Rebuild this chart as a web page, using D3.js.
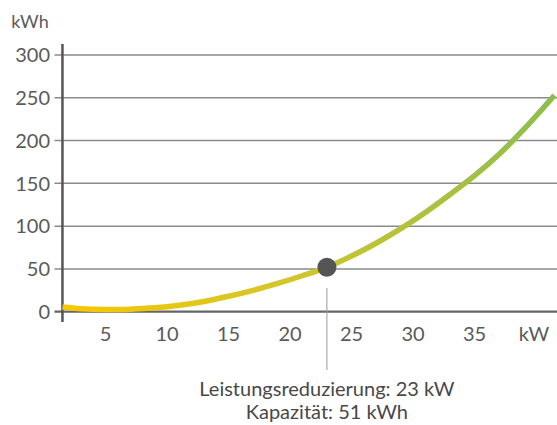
<!DOCTYPE html>
<html>
<head>
<meta charset="utf-8">
<script src="https://cdn.jsdelivr.net/npm/d3@7"></script>
<style>
  body { margin: 0; background: #fff; }
  text { font-family: Lato, "Open Sans", sans-serif; fill: #5a5a5a; }
</style>
</head>
<body>
<script>
// values
var leistung = [1.5, 3, 5, 7, 9, 11, 13, 15, 17, 19, 21, 23, 25, 27, 29, 31, 33, 35, 37, 39, 41.5];
var kapazitaet = [5.5, 3.5, 2.5, 3, 4.5, 7.5, 12, 18, 25, 33, 42, 52, 65, 80, 97, 116, 137, 159, 184, 213, 253];
var yTicks = [0, 50, 100, 150, 200, 250, 300];
var xTicks = [5, 10, 15, 20, 25, 30, 35];
var markerKw = 23;
var markerKwh = 52;
var note = ["Leistungsreduzierung: 23 kW", "Kapazität: 51 kWh"];

var w = 557, h = 425;
var svg = d3.select("body").append("svg").attr("width", w).attr("height", h);

var x = d3.scaleLinear().domain([0, 40]).range([44, 536]);
var y = d3.scaleLinear().domain([0, 300]).range([311.7, 55]);
var x0 = x(leistung[0]);

var grad = svg.append("defs").append("linearGradient")
    .attr("id", "lineGrad")
    .attr("gradientUnits", "userSpaceOnUse")
    .attr("x1", x0).attr("x2", w).attr("y1", 0).attr("y2", 0);
grad.append("stop").attr("offset", "0%").attr("stop-color", "#f8c700");
grad.append("stop").attr("offset", "45%").attr("stop-color", "#d3c62a");
grad.append("stop").attr("offset", "100%").attr("stop-color", "#8cbd4f");

// gridlines
svg.selectAll("line.grid")
    .data(yTicks)
    .enter()
    .append("line")
    .attr("class", "grid")
    .attr("x1", x0 - 8).attr("x2", w)
    .attr("y1", function(d) { return y(d); })
    .attr("y2", function(d) { return y(d); })
    .attr("stroke", function(d) { return d === 0 ? "#666" : "#8a8a8a"; })
    .attr("stroke-width", function(d) { return d === 0 ? 2.2 : 1.5; });

// y axis line
svg.append("line")
    .attr("x1", x0).attr("x2", x0)
    .attr("y1", 44).attr("y2", 322)
    .attr("stroke", "#555").attr("stroke-width", 2.5);

svg.selectAll("text.ytick")
    .data(yTicks)
    .enter()
    .append("text")
    .attr("class", "ytick")
    .attr("x", 50)
    .attr("y", function(d) { return y(d); })
    .attr("dy", "0.36em")
    .attr("text-anchor", "end")
    .style("font-size", "20px")
    .text(function(d) { return d; });

svg.append("text")
    .attr("x", 30).attr("y", 28)
    .attr("text-anchor", "middle")
    .style("font-size", "18px")
    .text("kWh");

svg.selectAll("text.xtick")
    .data(xTicks)
    .enter()
    .append("text")
    .attr("class", "xtick")
    .attr("x", function(d) { return x(d); })
    .attr("y", 341)
    .attr("text-anchor", "middle")
    .style("font-size", "20px")
    .text(function(d) { return d; });

svg.append("text")
    .attr("x", 534).attr("y", 341)
    .attr("text-anchor", "middle")
    .style("font-size", "20px")
    .text("kW");

// marker drop line
svg.append("line")
    .attr("x1", x(markerKw)).attr("x2", x(markerKw))
    .attr("y1", 288).attr("y2", 370)
    .attr("stroke", "#999").attr("stroke-width", 1);

var line = d3.line()
    .x(function(d, i) { return x(leistung[i]); })
    .y(function(d) { return y(d); })
    .curve(d3.curveCatmullRom);

svg.append("path")
    .datum(kapazitaet)
    .attr("d", line)
    .attr("fill", "none")
    .attr("stroke", "url(#lineGrad)")
    .attr("stroke-width", 5.5);

svg.append("circle")
    .attr("cx", x(markerKw))
    .attr("cy", y(markerKwh))
    .attr("r", 9.5)
    .attr("fill", "#555");

svg.selectAll("text.note")
    .data(note)
    .enter()
    .append("text")
    .attr("class", "note")
    .attr("x", x(markerKw))
    .attr("y", function(d, i) { return 396 + i * 23; })
    .attr("text-anchor", "middle")
    .style("font-size", "20px")
    .style("fill", "#484848")
    .text(function(d) { return d; });
</script>
</body>
</html>
